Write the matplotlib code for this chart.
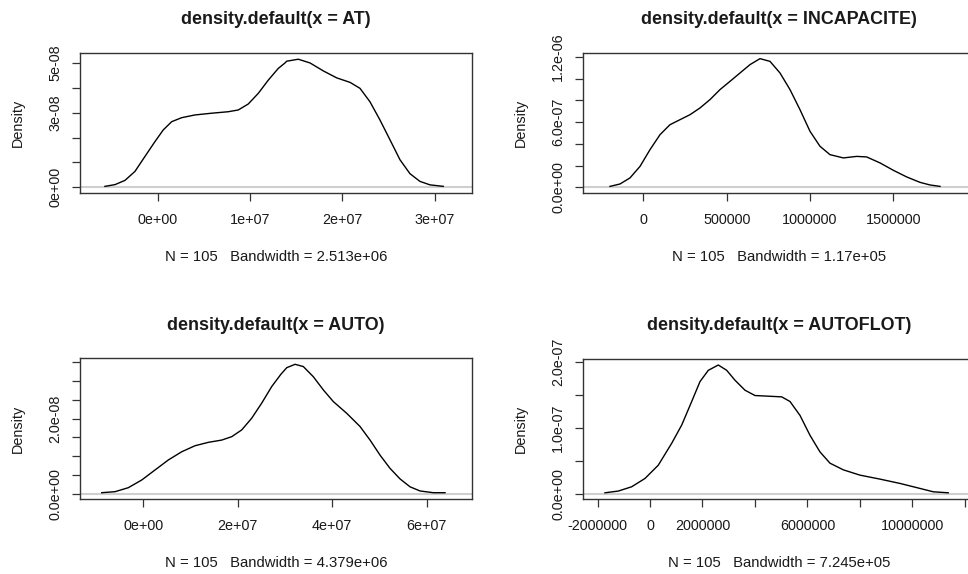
import numpy as np
import matplotlib
matplotlib.use("Agg")
import matplotlib.pyplot as plt

plt.rcParams['font.family'] = ['Liberation Sans', 'DejaVu Sans']

# density curves (x in data units, y in density)
at_x = np.array([-0.571, -0.462, -0.354, -0.246, -0.138, -0.029, 0.061, 0.152, 0.260, 0.404,
                 0.585, 0.765, 0.873, 0.981, 1.090, 1.198, 1.306, 1.379, 1.397, 1.523,
                 1.650, 1.794, 1.939, 2.083, 2.191, 2.299, 2.407, 2.516, 2.624, 2.732,
                 2.840, 2.949, 3.093]) * 1e7
at_y = np.array([0.04, 0.11, 0.28, 0.64, 1.24, 1.84, 2.31, 2.64, 2.80, 2.91,
                 2.98, 3.04, 3.11, 3.35, 3.78, 4.31, 4.78, 5.0, 5.07, 5.15,
                 5.0, 4.68, 4.4, 4.22, 3.98, 3.44, 2.71, 1.91, 1.11, 0.55,
                 0.24, 0.10, 0.04]) * 1e-8

inc_x = np.array([-200, -140, -80, -20, 40, 100, 160, 220, 280, 340, 400, 460, 520, 580,
                  640, 700, 760, 820, 880, 940, 1000, 1060, 1120, 1200, 1280, 1340,
                  1420, 1500, 1580, 1660, 1720, 1780]) * 1e3
inc_y = np.array([0.09, 0.31, 0.87, 1.93, 3.47, 4.85, 5.77, 6.23, 6.69, 7.31, 8.08, 9.0, 9.76, 10.53,
                  11.30, 11.85, 11.60, 10.53, 9.0, 7.15, 5.16, 3.78, 3.01, 2.71, 2.85, 2.80,
                  2.25, 1.57, 0.96, 0.46, 0.22, 0.09]) * 1e-7

auto_x = np.array([-0.881, -0.599, -0.318, -0.034, 0.248, 0.529, 0.813, 1.095, 1.377, 1.66,
                   1.872, 2.084, 2.295, 2.507, 2.719, 2.916, 3.037, 3.213, 3.388, 3.60,
                   3.812, 4.024, 4.307, 4.589, 4.801, 5.013, 5.224, 5.436, 5.648, 5.86,
                   6.141, 6.389]) * 1e7
auto_y = np.array([0.034, 0.061, 0.167, 0.371, 0.637, 0.902, 1.12, 1.28, 1.37, 1.43,
                   1.52, 1.70, 2.01, 2.41, 2.85, 3.18, 3.35, 3.44, 3.38, 3.11,
                   2.76, 2.45, 2.14, 1.79, 1.43, 1.03, 0.68, 0.40, 0.19, 0.08,
                   0.034, 0.034]) * 1e-8

flot_x = np.array([-1.716, -1.209, -0.698, -0.191, 0.316, 0.827, 1.209, 1.59, 1.906, 2.223,
                   2.604, 2.924, 3.241, 3.622, 4.003, 4.51, 5.02, 5.337, 5.719, 6.10,
                   6.48, 6.863, 7.37, 8.006, 8.769, 9.531, 10.29, 10.80, 11.37]) * 1e6
flot_y = np.array([0.024, 0.05, 0.115, 0.24, 0.44, 0.77, 1.045, 1.40, 1.70, 1.87,
                   1.95, 1.87, 1.72, 1.57, 1.49, 1.48, 1.47, 1.40, 1.19, 0.89,
                   0.64, 0.47, 0.37, 0.29, 0.23, 0.165, 0.09, 0.039, 0.024]) * 1e-7

names = ['AT', 'INCAPACITE', 'AUTO', 'AUTOFLOT']
bandwidths = ['2.513e+06', '1.17e+05', '4.379e+06', '7.245e+05']
n_obs = 105

xticks = [[0, 1e7, 2e7, 3e7],
          [0, 5e5, 1e6, 1.5e6],
          [0, 2e7, 4e7, 6e7],
          [-2e6, 0, 2e6, 4e6, 6e6, 8e6, 10e6, 12e6]]
xticklabels = [['0e+00', '1e+07', '2e+07', '3e+07'],
               ['0', '500000', '1000000', '1500000'],
               ['0e+00', '2e+07', '4e+07', '6e+07'],
               ['-2000000', '0', '2000000', '', '6000000', '', '10000000', '']]
yticks = [[0, 1e-8, 2e-8, 3e-8, 4e-8, 5e-8],
          [0, 2e-7, 4e-7, 6e-7, 8e-7, 1e-6, 1.2e-6],
          [0, 0.5e-8, 1e-8, 1.5e-8, 2e-8, 2.5e-8, 3e-8, 3.5e-8],
          [0, 0.5e-7, 1e-7, 1.5e-7, 2e-7]]
yticklabels = [['0e+00', '', '', '3e-08', '', '5e-08'],
               ['0.0e+00', '', '', '6.0e-07', '', '', '1.2e-06'],
               ['0.0e+00', '', '', '', '2.0e-08', '', '', ''],
               ['0.0e+00', '', '1.0e-07', '', '2.0e-07']]

xlims = [(-0.841e7, 3.404e7), (-362e3, 1990e3), (-1.341e7, 6.96e7), (-2.554e6, 12.39e6)]
ylims = [(-0.227e-8, 5.40e-8), (-0.052e-6, 1.237e-6), (-0.133e-8, 3.607e-8), (-0.065e-7, 2.045e-7)]

curves = [(at_x, at_y), (inc_x, inc_y), (auto_x, auto_y), (flot_x, flot_y)]

# box positions in pixels (left, top, bottom); all boxes 392 px wide
W, H = 968, 574
boxes = [(80, 53, 193), (583, 53, 193), (80, 358, 499), (583, 358.7, 498.7)]

fig = plt.figure(figsize=(W / 100, H / 100), dpi=100)
txt = '#1a1a1a'

for i in range(4):
    left, top, bottom = boxes[i]
    bw = 392
    bh = bottom - top
    ax = fig.add_axes([left / W, 1 - bottom / H, bw / W, bh / H])
    ax.axhline(0, color='#cfcfcf', lw=1.5, zorder=1)
    ax.plot(curves[i][0], curves[i][1], color='black', lw=1.0, zorder=2)
    ax.set_xlim(*xlims[i])
    ax.set_ylim(*ylims[i])
    for s in ax.spines.values():
        s.set_color('#333333')
        s.set_linewidth(1.0)
    ax.set_xticks(xticks[i])
    ax.set_xticklabels(xticklabels[i], fontsize=10.4, color=txt)
    ax.set_yticks(yticks[i])
    ax.set_yticklabels(yticklabels[i], fontsize=10.4, color=txt, rotation=90, va='center')
    ax.tick_params(direction='out', length=5.8, width=0.9, color='#333333', pad=7)
    ax.tick_params(axis='x', pad=8.5)
    ax.set_title('density.default(x = %s)' % names[i], fontsize=12.9, fontweight='bold',
                 color=txt, y=1 + 33 / bh, va='center', pad=0)
    ax.set_ylabel('Density', fontsize=10.4, color=txt)
    ax.yaxis.set_label_coords(-62 / bw, 0.5)
    ax.yaxis.label.set_va('center')
    ax.set_xlabel('N = %d   Bandwidth = %s' % (n_obs, bandwidths[i]), fontsize=10.7, color=txt)
    ax.xaxis.set_label_coords(0.5, -64 / bh)
    ax.xaxis.label.set_va('center')

fig.savefig('out.png', dpi=100)
